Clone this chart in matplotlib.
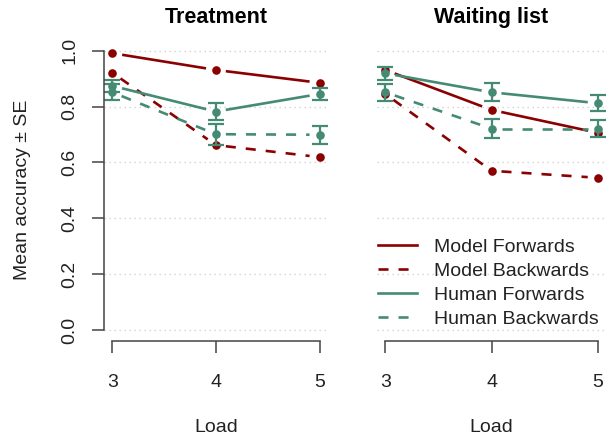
import matplotlib
matplotlib.use("Agg")
import matplotlib.pyplot as plt
import numpy as np
from matplotlib.lines import Line2D

plt.rcParams['font.family'] = ['Liberation Sans', 'DejaVu Sans']
plt.rcParams['font.size'] = 14

loads = [3, 4, 5]

# Treatment group
trt_model_fw = [0.991, 0.931, 0.885]
trt_model_bw = [0.921, 0.662, 0.619]
trt_human_fw = [0.874, 0.782, 0.845]
trt_human_fw_se = [0.021, 0.029, 0.021]
trt_human_bw = [0.851, 0.701, 0.699]
trt_human_bw_se = [0.028, 0.038, 0.033]

# Waiting list group
wl_model_fw = [0.931, 0.788, 0.706]
wl_model_bw = [0.845, 0.570, 0.545]
wl_human_fw = [0.919, 0.851, 0.812]
wl_human_fw_se = [0.024, 0.032, 0.029]
wl_human_bw = [0.851, 0.721, 0.721]
wl_human_bw_se = [0.031, 0.033, 0.031]

RED = '#8B0000'
GREEN = '#458B74'
AXC = '#444444'
LW = 1.9
DASH = (3.8, 3.8)


def gapped(ax, x, y, gap=10, **kw):
    # line segments that stop short of each point, like R's type="b"
    pts = ax.transData.transform(np.column_stack([x, y]))
    inv = ax.transData.inverted()
    for p, q in zip(pts[:-1], pts[1:]):
        d = q - p
        u = d / np.hypot(*d)
        seg = inv.transform(np.vstack([p + u * gap, q - u * gap]))
        ax.plot(seg[:, 0], seg[:, 1], solid_capstyle='butt', **kw)


def panel(ax, title, mf, mb, hf, hf_se, hb, hb_se, show_y):
    ax.set_xlim(2.92, 5.08)
    ax.set_ylim(-0.04, 1.04)
    for v in np.arange(0, 1.01, 0.2):
        ax.axhline(v, color='#d3d3d3', lw=1, ls=(0, (1, 2.6)), zorder=0)

    gapped(ax, loads, mf, color=RED, lw=LW)
    gapped(ax, loads, mb, color=RED, lw=LW, dashes=DASH)
    ax.plot(loads, mf, 'o', color=RED, ms=6.2, mew=0)
    ax.plot(loads, mb, 'o', color=RED, ms=6.2, mew=0)

    gapped(ax, loads, hf, color=GREEN, lw=LW)
    gapped(ax, loads, hb, color=GREEN, lw=LW, dashes=DASH)
    ax.errorbar(loads, hf, yerr=hf_se, fmt='none', ecolor=GREEN,
                elinewidth=1.6, capsize=6, capthick=1.6)
    ax.errorbar(loads, hb, yerr=hb_se, fmt='none', ecolor=GREEN,
                elinewidth=1.6, capsize=6, capthick=1.6)
    ax.plot(loads, hf, 'o', color=GREEN, ms=6.2, mew=0)
    ax.plot(loads, hb, 'o', color=GREEN, ms=6.2, mew=0)

    ax.set_title(title, fontweight='bold', fontsize=15.5, pad=12)
    ax.spines['top'].set_visible(False)
    ax.spines['right'].set_visible(False)
    ax.spines['bottom'].set_bounds(3, 5)
    ax.spines['bottom'].set_color(AXC)
    ax.spines['bottom'].set_linewidth(1.1)
    ax.set_xticks(loads)
    ax.tick_params(axis='x', length=8.6, width=1.1, color=AXC, pad=15,
                   labelcolor='#222222')
    ax.set_xlabel('Load', labelpad=20, color='#222222')
    if show_y:
        ax.spines['left'].set_bounds(0, 1)
        ax.spines['left'].set_color(AXC)
        ax.spines['left'].set_linewidth(1.1)
        yt = np.arange(0, 1.01, 0.2)
        ax.set_yticks(yt)
        ax.set_yticklabels(['%.1f' % v for v in yt], rotation=90, va='center')
        ax.tick_params(axis='y', length=8.6, width=1.1, color=AXC, pad=10,
                       labelcolor='#222222')
    else:
        ax.spines['left'].set_visible(False)
        ax.set_yticks([])


fig = plt.figure(figsize=(6.09, 4.36), dpi=100)
ax1 = fig.add_axes([104 / 609, 94.8 / 436, 223.8 / 609, 301.7 / 436])
ax2 = fig.add_axes([376.8 / 609, 94.8 / 436, 229.4 / 609, 301.7 / 436])

panel(ax1, 'Treatment', trt_model_fw, trt_model_bw, trt_human_fw,
      trt_human_fw_se, trt_human_bw, trt_human_bw_se, True)
panel(ax2, 'Waiting list', wl_model_fw, wl_model_bw, wl_human_fw,
      wl_human_fw_se, wl_human_bw, wl_human_bw_se, False)

fig.text(22.7 / 609, 1 - 190.3 / 436, 'Mean accuracy \u00b1 SE', rotation=90,
         ha='center', va='center', color='#222222')

handles = [
    Line2D([], [], color=RED, lw=LW),
    Line2D([], [], color=RED, lw=LW, dashes=DASH),
    Line2D([], [], color=GREEN, lw=LW),
    Line2D([], [], color=GREEN, lw=LW, dashes=DASH),
]
names = ['Model Forwards', 'Model Backwards', 'Human Forwards', 'Human Backwards']
ax2.legend(handles, names, loc='upper left', frameon=False,
           bbox_to_anchor=(378 / 609, 1 - 238 / 436),
           bbox_transform=fig.transFigure, borderpad=0, borderaxespad=0,
           handlelength=2.0, handletextpad=0.9, labelspacing=0.33,
           fontsize=14, labelcolor='#222222')

fig.savefig('out.png', dpi=100)
